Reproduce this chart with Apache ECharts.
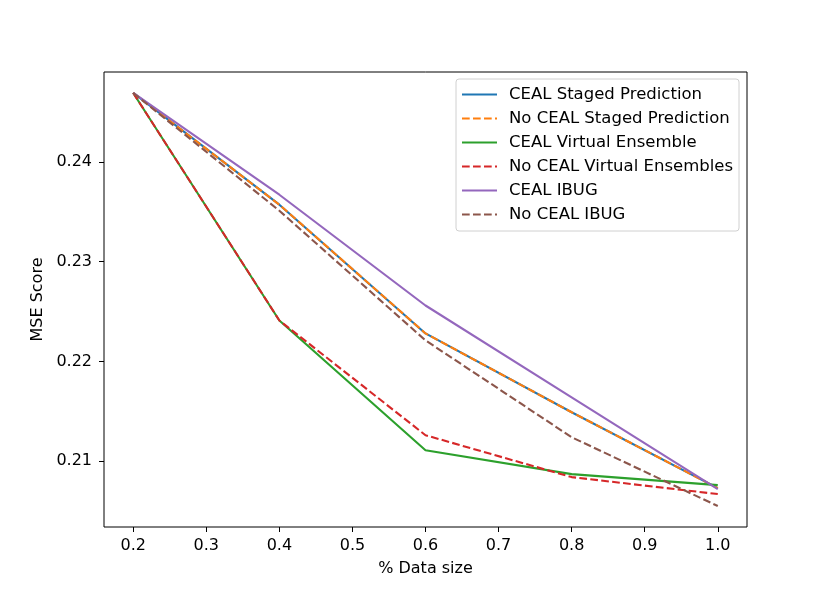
<!DOCTYPE html>
<html lang="en">
<head>
    <meta charset="UTF-8">
    <title>MSE Score vs % Data size</title>
    <script type="text/javascript" src="https://cdn.jsdelivr.net/npm/echarts@6/dist/echarts.min.js"></script>
    <style>
        body { margin: 0; background: #fff; }
    </style>
</head>
<body>
<div id="main" style="width: 830px;height:593px;"></div>
<script type="text/javascript">
    var dataSize = [0.2, 0.4, 0.6, 0.8, 1.0];
    var cealStaged = [0.2469, 0.2357, 0.2228, 0.2149, 0.2073];
    var noCealStaged = [0.2469, 0.2357, 0.2228, 0.2149, 0.2073];
    var cealVirtual = [0.2469, 0.2241, 0.2111, 0.2087, 0.2076];
    var noCealVirtual = [0.2469, 0.2241, 0.2126, 0.2084, 0.2067];
    var cealIbug = [0.2469, 0.2367, 0.2256, 0.2164, 0.2072];
    var noCealIbug = [0.2469, 0.2351, 0.2221, 0.2124, 0.2055];

    var xTicks = [0.2, 0.3, 0.4, 0.5, 0.6, 0.7, 0.8, 0.9, 1.0];
    var yTicks = [0.21, 0.22, 0.23, 0.24];

    function pairs(ys) {
        var out = [];
        for (var i = 0; i < dataSize.length; i++) {
            out.push([dataSize[i], ys[i]]);
        }
        return out;
    }

    var dash = [7.7, 3.3];
    function line(name, ys, color, dashed) {
        return {
            name: name,
            type: 'line',
            data: pairs(ys),
            symbol: 'none',
            smooth: false,
            animation: false,
            lineStyle: { color: color, width: 2.1, type: dashed ? dash : 'solid' },
            itemStyle: { color: color }
        };
    }

    var font = 'DejaVu Sans';
    var myChart = echarts.init(document.getElementById('main'));
    var option = {
        animation: false,
        grid: {
            left: 104, right: 83, top: 72, bottom: 66,
            show: true, borderColor: '#000', borderWidth: 1, backgroundColor: '#fff'
        },
        legend: {
            orient: 'vertical',
            left: 456, top: 79,
            padding: [7, 6, 8, 5],
            itemWidth: 35, itemHeight: 16, itemGap: 7.0,
            backgroundColor: '#fff',
            borderColor: '#d0d0d0', borderWidth: 1, borderRadius: 3,
            itemStyle: { opacity: 0 },
            textStyle: { fontFamily: font, fontSize: 16.5, color: '#000', padding: [0, 0, 0, 7] },
            data: [
                'CEAL Staged Prediction', 'No CEAL Staged Prediction',
                'CEAL Virtual Ensemble', 'No CEAL Virtual Ensembles',
                'CEAL IBUG', 'No CEAL IBUG'
            ]
        },
        xAxis: {
            type: 'value',
            min: 0.16, max: 1.04,
            name: '% Data size',
            nameLocation: 'middle',
            nameGap: 34,
            nameTextStyle: { fontFamily: font, fontSize: 16, color: '#000' },
            axisLine: { show: false },
            splitLine: { show: false },
            axisTick: { show: true, length: 5, lineStyle: { color: '#000' }, customValues: xTicks },
            axisLabel: {
                fontFamily: font, fontSize: 16, color: '#000', margin: 11,
                customValues: xTicks,
                formatter: function (v) { return v.toFixed(1); }
            }
        },
        yAxis: {
            type: 'value',
            min: 0.2034, max: 0.2490,
            name: 'MSE Score',
            nameLocation: 'middle',
            nameGap: 56,
            nameTextStyle: { fontFamily: font, fontSize: 16, color: '#000' },
            axisLine: { show: false },
            splitLine: { show: false },
            axisTick: { show: true, length: 5, lineStyle: { color: '#000' }, customValues: yTicks },
            axisLabel: {
                fontFamily: font, fontSize: 16, color: '#000', margin: 12,
                customValues: yTicks,
                formatter: function (v) { return v.toFixed(2); }
            }
        },
        series: [
            line('CEAL Staged Prediction', cealStaged, '#1f77b4', false),
            line('No CEAL Staged Prediction', noCealStaged, '#ff7f0e', true),
            line('CEAL Virtual Ensemble', cealVirtual, '#2ca02c', false),
            line('No CEAL Virtual Ensembles', noCealVirtual, '#d62728', true),
            line('CEAL IBUG', cealIbug, '#9467bd', false),
            line('No CEAL IBUG', noCealIbug, '#8c564b', true)
        ]
    };
    myChart.setOption(option);
</script>
</body>
</html>
